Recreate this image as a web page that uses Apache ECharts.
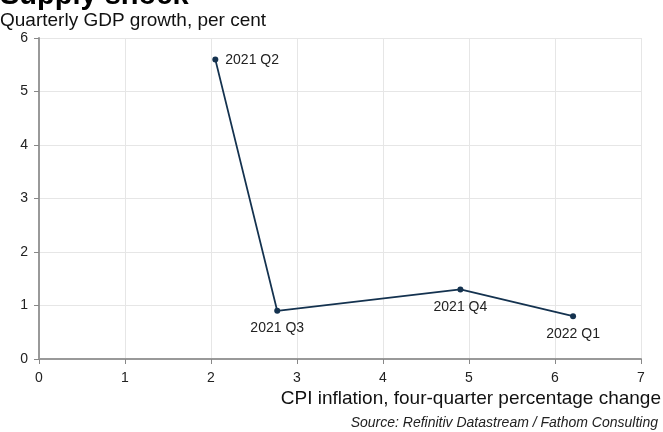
<!DOCTYPE html>
<html><head><meta charset="utf-8">
<script src="https://cdn.jsdelivr.net/npm/echarts@6/dist/echarts.min.js"></script>
<style>html,body{margin:0;padding:0;background:#fff}#c{width:663px;height:432px}</style>
</head><body><div id="c"></div>
<script>
const labels = ['2021 Q2','2021 Q3','2021 Q4','2022 Q1'];
const cpi = [2.05, 2.77, 4.9, 6.21];
const gdp = [5.6, 0.9, 1.3, 0.8];
const xTicks = [0,1,2,3,4,5,6,7];
const yTicks = [0,1,2,3,4,5,6];
const xName = 'CPI inflation, four-quarter percentage change';
const labelPos = ['right','bottom','bottom','bottom'];
const labelOff = [[0,1],[0,0],[0,1],[0,1]];

const F = 'Liberation Sans, Arial, sans-serif';
const chart = echarts.init(document.getElementById('c'), null, {renderer:'canvas'});
chart.setOption({
  animation:false,
  backgroundColor:'#fff',
  graphic:[
    {type:'text', left:0, top:-19, style:{text:'Supply shock', font:'bold 29px '+F, fill:'#000'}},
    {type:'text', left:0, top:11, style:{text:'Quarterly GDP growth, per cent', font:'19px '+F, fill:'#111'}},
    {type:'text', right:2, top:389, style:{text:xName, font:'19px '+F, fill:'#111'}},
    {type:'text', right:5, top:416, style:{text:'Source: Refinitiv Datastream / Fathom Consulting', font:'italic 14px '+F, fill:'#222'}}
  ],
  grid:{left:39, right:22, top:38, bottom:73, outerBoundsMode:'none', containLabel:false},
  xAxis:{
    type:'value', min:0, max:7, interval:1,
    axisLine:{lineStyle:{color:'#999', width:2}},
    axisTick:{show:true, length:5, lineStyle:{color:'#888'}},
    axisLabel:{fontFamily:F, fontSize:14, color:'#222', margin:12, formatter:v=>xTicks.includes(v)?String(v):''},
    splitLine:{show:true, lineStyle:{color:'#e6e6e6'}}
  },
  yAxis:{
    type:'value', min:0, max:6, interval:1,
    axisLine:{show:true, lineStyle:{color:'#999', width:2}},
    axisTick:{show:true, length:5, lineStyle:{color:'#888'}},
    axisLabel:{fontFamily:F, fontSize:14, color:'#222', margin:11, formatter:v=>yTicks.includes(v)?String(v):''},
    splitLine:{show:true, lineStyle:{color:'#e6e6e6'}}
  },
  series:[{
    type:'line',
    data: cpi.map((x,i)=>({value:[x,gdp[i]], label:{position:labelPos[i], offset:labelOff[i]}})),
    symbol:'circle', symbolSize:6,
    lineStyle:{color:'#14324f', width:1.8},
    itemStyle:{color:'#14324f'},
    label:{show:true, fontFamily:F, fontSize:14, color:'#222', distance:7,
      formatter:p=>labels[p.dataIndex]}
  }]
});
</script></body></html>
